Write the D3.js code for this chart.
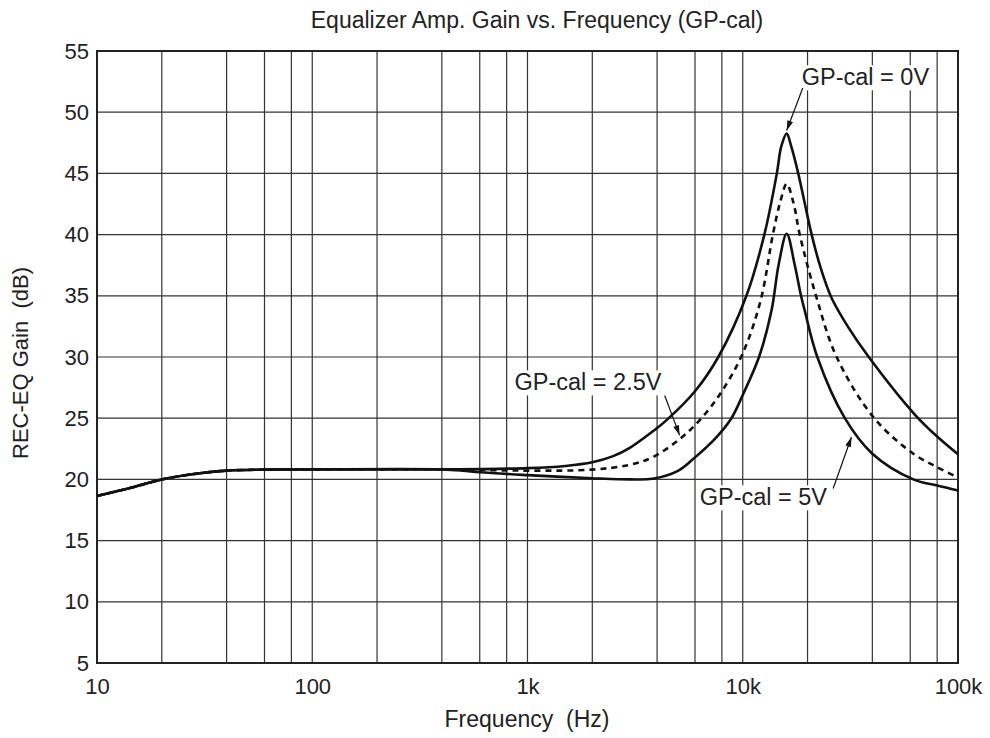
<!DOCTYPE html>
<html>
<head>
<meta charset="utf-8">
<script src="https://cdn.jsdelivr.net/npm/d3@7"></script>
<style>
  body { margin: 0; background: #fff; }
  text { font-family: "Liberation Sans", Arial, Helvetica, sans-serif; fill: #222; }
</style>
</head>
<body>
<svg id="chart"></svg>
<script>
// values
var freq0V  = [10, 15, 20, 30, 40, 60, 100, 400, 1000, 1500, 2000, 2500, 3000, 3870, 4400, 6000, 7700, 10400, 12600, 14400, 15100, 16000, 16800, 18100, 20900, 23000, 25900, 31000, 38500, 63000, 80000, 100000]
var gain0V  = [18.65, 19.4, 20.0, 20.5, 20.72, 20.8, 20.82, 20.82, 20.92, 21.1, 21.4, 21.9, 22.6, 24.0, 24.8, 27.2, 30.0, 35.0, 40.0, 45.0, 47.2, 48.25, 47.2, 45.0, 40.0, 37.3, 34.8, 32.4, 30.0, 25.3, 23.5, 22.05]

var freq25V = [10, 15, 20, 30, 40, 60, 100, 400, 1000, 2000, 3000, 3800, 5100, 6430, 8000, 10000, 12100, 13800, 14900, 16000, 17200, 18400, 21900, 27300, 40800, 62000, 80000, 100000]
var gain25V = [18.65, 19.4, 20.0, 20.5, 20.72, 20.8, 20.82, 20.82, 20.72, 20.8, 21.2, 21.8, 23.3, 25.0, 27.2, 30.3, 34.6, 40.0, 42.6, 44.15, 42.6, 40.0, 35.0, 30.0, 25.0, 22.1, 21.0, 20.15]

var freq5V  = [10, 15, 20, 30, 40, 60, 100, 400, 500, 600, 1000, 2000, 3000, 3800, 5000, 6000, 7500, 8860, 10000, 11900, 13600, 14700, 16000, 17400, 18600, 19400, 22200, 29800, 40000, 62000, 80000, 100000]
var gain5V  = [18.65, 19.4, 20.0, 20.5, 20.72, 20.8, 20.82, 20.82, 20.72, 20.58, 20.35, 20.1, 20.0, 20.05, 20.7, 21.8, 23.4, 25.0, 26.9, 30.0, 33.8, 37.6, 40.07, 37.6, 35.1, 33.8, 30.0, 25.0, 22.1, 20.0, 19.5, 19.1]

var xTickValues = [10, 100, 1000, 10000, 100000]
var xTickLabels = ["10", "100", "1k", "10k", "100k"]
var xGridMults  = [1, 2, 4, 6, 8]
var yTickValues = [5, 10, 15, 20, 25, 30, 35, 40, 45, 50, 55]

// label text, label anchor (freq, gain), arrow start and arrow tip (freq, gain)
var noteTexts  = ["GP-cal = 0V", "GP-cal = 2.5V", "GP-cal = 5V"]
var noteAnchor = [[18800, 52.2], [870, 27.27], [6310, 17.88]]
var arrowFrom  = [[19000, 51.98], [4340, 26.86], [26300, 19.26]]
var arrowTo    = [[16000, 48.5], [5090, 23.6], [32000, 23.47]]

var svgw = 990
var svgh = 738
var margins = {left: 97, top: 51, right: 32, bottom: 75}
var graphDim = {width: svgw - margins.left - margins.right, height: svgh - margins.top - margins.bottom}

var svg = d3.select("#chart")
    .attr("width", svgw)
    .attr("height", svgh)

var xscale = d3.scaleLog()
    .domain([10, 100000])
    .range([margins.left, margins.left + graphDim.width])

var yscale = d3.scaleLinear()
    .domain([5, 55])
    .range([margins.top + graphDim.height, margins.top])

// grid
var gridFreqs = []
xTickValues.slice(0, 4).forEach(function(dec) {
    xGridMults.forEach(function(m) { gridFreqs.push(dec * m) })
})

svg.append("g").selectAll("line")
    .data(gridFreqs)
    .enter()
    .append("line")
    .attr("x1", function(d) { return xscale(d) })
    .attr("x2", function(d) { return xscale(d) })
    .attr("y1", yscale(55))
    .attr("y2", yscale(5))
    .attr("stroke", "#333")
    .attr("stroke-width", 1.2)

svg.append("g").selectAll("line")
    .data(yTickValues)
    .enter()
    .append("line")
    .attr("x1", xscale(10))
    .attr("x2", xscale(100000))
    .attr("y1", function(d) { return yscale(d) })
    .attr("y2", function(d) { return yscale(d) })
    .attr("stroke", "#333")
    .attr("stroke-width", 1.2)

// frame
svg.append("rect")
    .attr("x", xscale(10))
    .attr("y", yscale(55))
    .attr("width", xscale(100000) - xscale(10))
    .attr("height", yscale(5) - yscale(55))
    .attr("fill", "none")
    .attr("stroke", "#222")
    .attr("stroke-width", 2)

// axes (labels only)
var xAxis = d3.axisBottom(xscale)
    .tickValues(xTickValues)
    .tickFormat(function(d, i) { return xTickLabels[i] })
    .tickSize(0)
    .tickPadding(15)
var gx = svg.append("g")
    .attr("transform", "translate(0," + yscale(5) + ")")
    .call(xAxis)
gx.select(".domain").remove()
gx.selectAll("text").style("font-size", "22px").attr("fill", "#222")

var yAxis = d3.axisLeft(yscale)
    .tickValues(yTickValues)
    .tickSize(0)
    .tickPadding(8)
var gy = svg.append("g")
    .attr("transform", "translate(" + xscale(10) + ",0)")
    .call(yAxis)
gy.select(".domain").remove()
gy.selectAll("text").style("font-size", "22px").attr("fill", "#222")

// curves
var makeLine = d3.line()
    .x(function(d) { return xscale(d[0]) })
    .y(function(d) { return yscale(d[1]) })
    .curve(d3.curveCatmullRom.alpha(0.5))

var series = [
    {f: freq0V, g: gain0V, dash: null},
    {f: freq5V, g: gain5V, dash: null},
    {f: freq25V, g: gain25V, dash: "6,5"}
]

svg.append("g").selectAll("path")
    .data(series)
    .enter()
    .append("path")
    .attr("d", function(s) { return makeLine(d3.zip(s.f, s.g)) })
    .attr("fill", "none")
    .attr("stroke", "#111")
    .attr("stroke-width", 2.6)
    .attr("stroke-dasharray", function(s) { return s.dash })

// annotations
svg.append("defs").append("marker")
    .attr("id", "arrowhead")
    .attr("viewBox", "0 0 10 6")
    .attr("refX", 10)
    .attr("refY", 3)
    .attr("markerWidth", 11)
    .attr("markerHeight", 6)
    .attr("markerUnits", "userSpaceOnUse")
    .attr("orient", "auto")
    .append("path")
    .attr("d", "M0,0L10,3L0,6Z")
    .attr("fill", "#111")

var notes = svg.append("g")
noteTexts.forEach(function(t, i) {
    var g = notes.append("g")
    var bg = g.append("rect").attr("fill", "#fff")
    var txt = g.append("text")
        .text(t)
        .attr("x", xscale(noteAnchor[i][0]))
        .attr("y", yscale(noteAnchor[i][1]))
        .style("font-size", "23.5px")
    var bb = txt.node().getBBox()
    bg.attr("x", bb.x - 3).attr("y", bb.y + 1)
      .attr("width", bb.width + 6).attr("height", bb.height - 1)
    g.append("line")
        .attr("x1", xscale(arrowFrom[i][0]))
        .attr("y1", yscale(arrowFrom[i][1]))
        .attr("x2", xscale(arrowTo[i][0]))
        .attr("y2", yscale(arrowTo[i][1]))
        .attr("stroke", "#111")
        .attr("stroke-width", 1.2)
        .attr("marker-end", "url(#arrowhead)")
})

// titles
svg.append("text")
    .text("Equalizer Amp. Gain vs. Frequency (GP-cal)")
    .attr("text-anchor", "middle")
    .attr("x", 537)
    .attr("y", 28)
    .style("font-size", "23px")

svg.append("text")
    .text("Frequency  (Hz)")
    .attr("text-anchor", "middle")
    .attr("x", 527)
    .attr("y", 727)
    .style("font-size", "23px")
    .style("white-space", "pre")

svg.append("text")
    .attr("transform", "translate(28," + 363 + ") rotate(-90)")
    .text("REC-EQ Gain  (dB)")
    .attr("text-anchor", "middle")
    .style("font-size", "22px")
    .style("white-space", "pre")
</script>
</body>
</html>
